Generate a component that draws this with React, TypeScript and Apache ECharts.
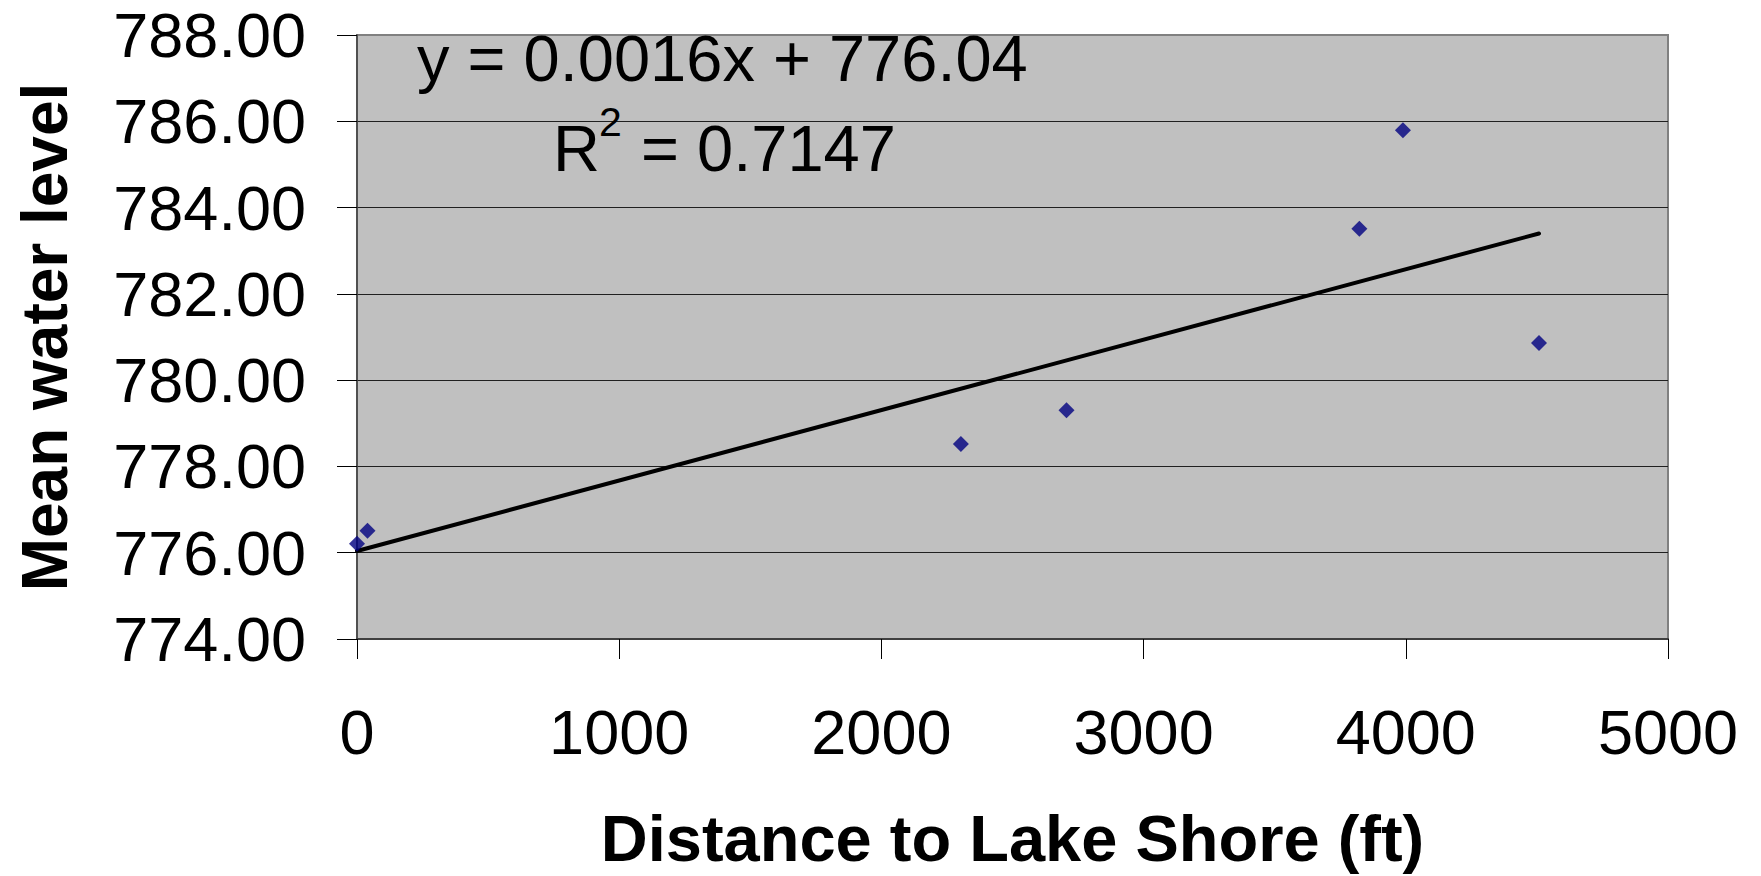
import React, { useEffect, useRef } from "react";
import * as echarts from "echarts";

const distances = [0, 40, 2303, 2706, 3823, 3989, 4508];
const waterLevels = [776.21, 776.51, 778.52, 779.3, 783.51, 785.79, 780.86];
const trendX = [0, 4508];
const trendY = [776.04, 783.4];
const xTicks = { min: 0, max: 5000, interval: 1000 };
const yTicks = { min: 774, max: 788, interval: 2 };
const equationText = "y = 0.0016x + 776.04";
const r2Value = " = 0.7147";

const FONT = "'Liberation Sans', Arial, sans-serif";

export default function App() {
  const ref = useRef<HTMLDivElement>(null);
  useEffect(() => {
    if (!ref.current) return;
    const chart = echarts.init(ref.current, null, { renderer: "svg" });
    const scatterData = distances.map((d, i) => [d, waterLevels[i]]);
    const trendData = trendX.map((d, i) => [d, trendY[i]]);
    chart.setOption({
      animation: false,
      backgroundColor: "#ffffff",
      textStyle: { fontFamily: FONT },
      grid: {
        left: 357,
        top: 35,
        right: 93,
        bottom: 236,
        show: true,
        backgroundColor: "#C0C0C0",
        borderColor: "#808080",
        borderWidth: 2,
      },
      xAxis: {
        type: "value",
        min: xTicks.min,
        max: xTicks.max,
        interval: xTicks.interval,
        name: "Distance to Lake Shore (ft)",
        nameLocation: "middle",
        nameGap: 167,
        nameTextStyle: { fontSize: 65, fontWeight: "bold", color: "#000", fontFamily: FONT },
        axisLine: { show: true, lineStyle: { color: "#404040", width: 2 } },
        axisTick: { show: true, length: 20, inside: false, lineStyle: { color: "#000", width: 1 } },
        axisLabel: {
          margin: 61,
          fontSize: 63,
          color: "#000",
          fontFamily: FONT,
          formatter: (v: number) => String(v),
        },
        splitLine: { show: false },
      },
      yAxis: {
        type: "value",
        min: yTicks.min,
        max: yTicks.max,
        interval: yTicks.interval,
        name: "Mean water level",
        nameLocation: "middle",
        nameGap: 280,
        nameTextStyle: { fontSize: 64, fontWeight: "bold", color: "#000", fontFamily: FONT },
        axisLine: { show: true, lineStyle: { color: "#404040", width: 1.5 } },
        axisTick: { show: true, length: 20, inside: false, lineStyle: { color: "#000", width: 1 } },
        axisLabel: {
          margin: 51,
          fontSize: 63,
          color: "#000",
          fontFamily: FONT,
          formatter: (v: number) => v.toFixed(2),
        },
        splitLine: {
          show: true,
          lineStyle: {
            color: ["#202020", "#202020", "#202020", "#202020", "#202020", "#202020", "#202020", "#808080"],
            width: 1.2,
          },
        },
      },
      series: [
        {
          type: "line",
          data: trendData,
          showSymbol: false,
          symbol: "none",
          lineStyle: { color: "#000", width: 4, cap: "round" },
          z: 2,
          silent: true,
        },
        {
          type: "scatter",
          data: scatterData,
          symbol: "diamond",
          symbolSize: 16,
          itemStyle: { color: "#000080" },
          z: 3,
        },
      ],
      graphic: [
        {
          type: "text",
          left: 417,
          top: 26,
          style: { text: equationText, fontSize: 65, fill: "#000", fontFamily: FONT },
          z: 10,
        },
        {
          type: "text",
          left: 553,
          top: 116,
          style: { text: "R", fontSize: 65, fill: "#000", fontFamily: FONT },
          z: 10,
        },
        {
          type: "text",
          left: 599,
          top: 101,
          style: { text: "2", fontSize: 41, fill: "#000", fontFamily: FONT },
          z: 10,
        },
        {
          type: "text",
          left: 623,
          top: 116,
          style: { text: r2Value, fontSize: 65, fill: "#000", fontFamily: FONT },
          z: 10,
        },
      ],
    });
    return () => chart.dispose();
  }, []);
  return (
    <div
      ref={ref}
      style={{ position: "fixed", left: 0, top: 0, width: 1761, height: 876 }}
    />
  );
}
